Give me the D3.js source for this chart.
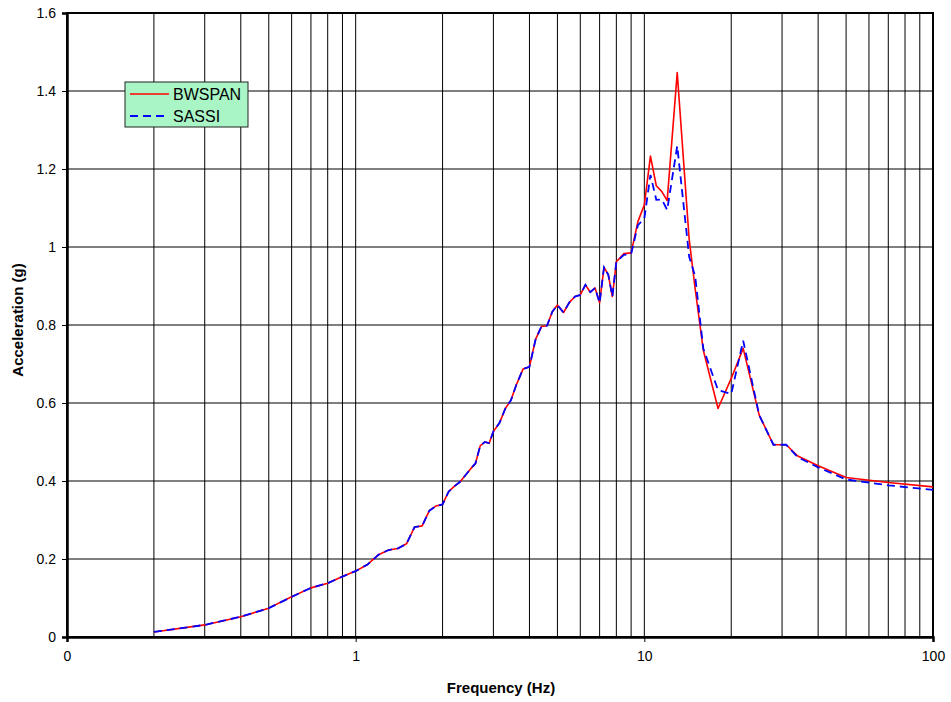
<!DOCTYPE html>
<html>
<head>
<meta charset="utf-8">
<script src="https://cdn.jsdelivr.net/npm/d3@7"></script>
<style>
  html, body { margin: 0; padding: 0; background: #fff; }
  svg { display: block; font-family: "Liberation Sans", Arial, sans-serif; }
</style>
</head>
<body>
<svg id="chart" width="951" height="702"></svg>
<script>
// Spectral acceleration vs frequency, two analyses
const freq = [0.2, 0.3, 0.4, 0.5, 0.6, 0.7, 0.8, 0.9, 1.0, 1.1, 1.2, 1.3, 1.4, 1.5, 1.6, 1.7, 1.8, 1.9,
  2.0, 2.1, 2.2, 2.3, 2.5, 2.6, 2.7, 2.8, 2.9, 3.0, 3.15, 3.3, 3.45, 3.6, 3.8, 4.0, 4.2, 4.4, 4.6, 4.8,
  5.0, 5.25, 5.5, 5.75, 6.0, 6.25, 6.5, 6.75, 7.0, 7.25, 7.5, 7.75, 8.0, 8.5, 9.0, 9.5, 10, 10.5, 11,
  11.5, 12, 13, 14.3, 15, 16, 18, 20, 22, 25, 28, 31, 34, 40, 50, 70, 100];

const bwspan = [0.013, 0.031, 0.052, 0.074, 0.103, 0.126, 0.138, 0.155, 0.169, 0.186, 0.211, 0.223, 0.227, 0.239, 0.282, 0.285,
  0.324, 0.336, 0.340, 0.373, 0.387, 0.398, 0.431, 0.445, 0.490, 0.500, 0.497, 0.527, 0.549, 0.586, 0.607, 0.646, 0.687, 0.693,
  0.763, 0.796, 0.798, 0.834, 0.851, 0.832, 0.858, 0.873, 0.877, 0.903, 0.884, 0.895, 0.857, 0.948, 0.929, 0.873, 0.962, 0.983, 0.985,
  1.065, 1.108, 1.233, 1.157, 1.142, 1.119, 1.447, 1.020, 0.893, 0.736, 0.586, 0.663, 0.740, 0.569, 0.493, 0.493, 0.464, 0.439,
  0.409, 0.396, 0.385];

const sassi = [0.013, 0.031, 0.052, 0.074, 0.103, 0.126, 0.138, 0.155, 0.169, 0.186, 0.211, 0.223, 0.227, 0.239, 0.282, 0.285,
  0.324, 0.336, 0.340, 0.373, 0.387, 0.398, 0.431, 0.445, 0.490, 0.500, 0.497, 0.527, 0.549, 0.586, 0.607, 0.646, 0.687, 0.693,
  0.763, 0.796, 0.798, 0.834, 0.851, 0.832, 0.858, 0.873, 0.877, 0.903, 0.884, 0.895, 0.857, 0.948, 0.929, 0.873, 0.962, 0.980, 0.982,
  1.056, 1.073, 1.185, 1.121, 1.122, 1.095, 1.259, 0.975, 0.925, 0.740, 0.633, 0.623, 0.760, 0.569, 0.493, 0.493, 0.461, 0.435,
  0.404, 0.389, 0.377];

const seriesNames = ["BWSPAN", "SASSI"];
const yTicks = [0, 0.2, 0.4, 0.6, 0.8, 1, 1.2, 1.4, 1.6];
const xTickValues = [0.1, 1, 10, 100];
const xTickLabels = ["0", "1", "10", "100"];

const svg = d3.select("#chart");
const plotL = 67, plotR = 933, plotT = 13, plotB = 637;

const x = d3.scaleLog().domain([0.1, 100]).range([plotL, plotR]);
const y = d3.scaleLinear().domain([0, 1.6]).range([plotB, plotT]);

// log grid: every integer multiple inside each decade
const vGrid = [];
[0.1, 1, 10].forEach(d => { for (let k = 1; k <= 9; k++) vGrid.push(d * k); });
vGrid.push(100);

const grid = svg.append("g");
grid.selectAll("line.v").data(vGrid).join("line").attr("class", "v")
  .attr("x1", d => x(d)).attr("x2", d => x(d))
  .attr("y1", plotT).attr("y2", plotB)
  .attr("stroke", "#000").attr("stroke-width", 1);
grid.selectAll("line.h").data(yTicks).join("line").attr("class", "h")
  .attr("x1", plotL).attr("x2", plotR)
  .attr("y1", d => y(d)).attr("y2", d => y(d))
  .attr("stroke", "#000").attr("stroke-width", 1);

// plot frame
svg.append("rect")
  .attr("x", plotL).attr("y", plotT)
  .attr("width", plotR - plotL).attr("height", plotB - plotT)
  .attr("fill", "none").attr("stroke", "#000").attr("stroke-width", 2);

// axes
const yAxis = svg.append("g").attr("transform", `translate(${plotL},0)`)
  .call(d3.axisLeft(y).tickValues(yTicks).tickSize(5).tickPadding(6)
    .tickFormat(d => String(+d.toFixed(1))));
const xAxis = svg.append("g").attr("transform", `translate(0,${plotB})`)
  .call(d3.axisBottom(x).tickValues(xTickValues).tickSize(5).tickPadding(9)
    .tickFormat((d, i) => xTickLabels[i]));
[yAxis, xAxis].forEach(a => {
  a.select(".domain").attr("stroke", "#000").attr("stroke-width", 2.5);
  a.selectAll(".tick line").attr("stroke", "#000").attr("stroke-width", 1);
  a.selectAll(".tick text").attr("fill", "#000")
    .style("font-family", "'Liberation Sans', Arial, sans-serif").style("font-size", "14px");
});

// axis titles
svg.append("text")
  .attr("x", 501).attr("y", 693)
  .attr("text-anchor", "middle")
  .style("font-weight", "bold").style("font-size", "15px")
  .text("Frequency (Hz)");
svg.append("text")
  .attr("transform", "translate(23,320) rotate(-90)")
  .attr("text-anchor", "middle")
  .style("font-weight", "bold").style("font-size", "15px")
  .text("Acceleration (g)");

// curves
const line = d3.line().x(d => x(d[0])).y(d => y(d[1]));
const redPts = freq.map((f, i) => [f, bwspan[i]]);
const bluePts = freq.map((f, i) => [f, sassi[i]]);

svg.append("path").datum(redPts)
  .attr("d", line).attr("fill", "none")
  .attr("stroke", "#ff0000").attr("stroke-width", 1.6).attr("stroke-linejoin", "round");
svg.append("path").datum(bluePts)
  .attr("d", line).attr("fill", "none")
  .attr("stroke", "#0000ff").attr("stroke-width", 1.8).attr("stroke-dasharray", "8,5");

// legend
const lg = svg.append("g").attr("transform", "translate(125,82)");
lg.append("rect").attr("width", 123).attr("height", 45)
  .attr("fill", "#a9f5c6").attr("stroke", "#222").attr("stroke-width", 1);
const styles = [
  { color: "#ff0000", dash: null, w: 1.6 },
  { color: "#0000ff", dash: "8,5", w: 1.8 }
];
seriesNames.forEach((name, i) => {
  const yy = 12 + i * 22;
  lg.append("line").attr("x1", 5).attr("x2", 44).attr("y1", yy).attr("y2", yy)
    .attr("stroke", styles[i].color).attr("stroke-width", styles[i].w)
    .attr("stroke-dasharray", styles[i].dash);
  lg.append("text").attr("x", 48).attr("y", yy + 6)
    .style("font-size", "16px").text(name);
});
</script>
</body>
</html>
